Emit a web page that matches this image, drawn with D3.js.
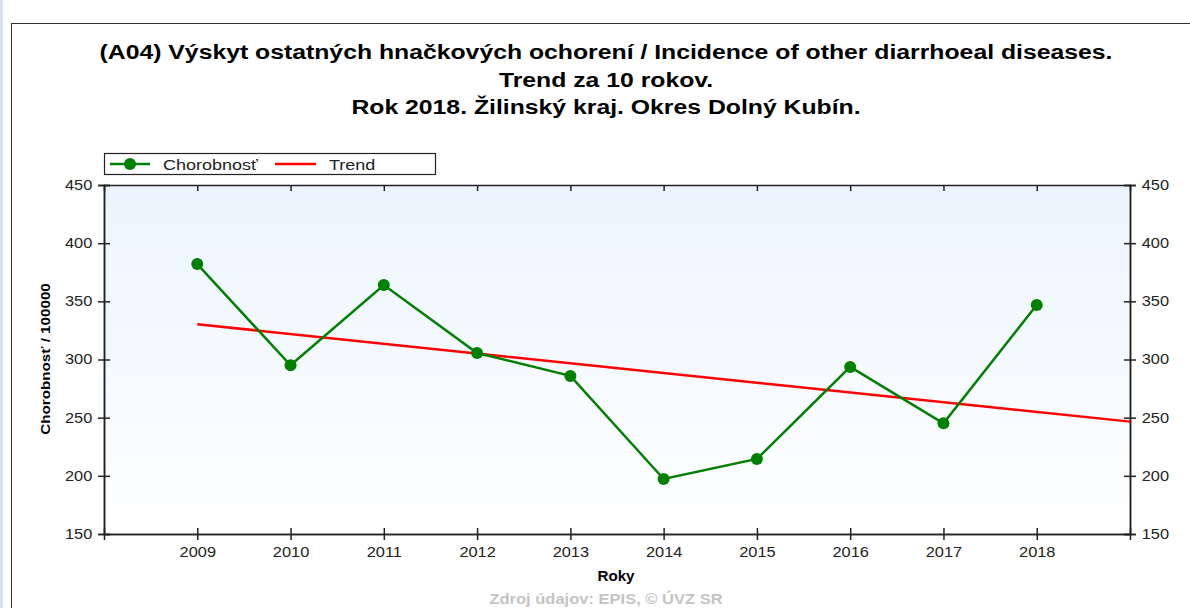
<!DOCTYPE html>
<html>
<head>
<meta charset="utf-8">
<script src="https://cdn.jsdelivr.net/npm/d3@7"></script>
<style>
  body { margin: 0; background: #fff; }
  svg { display: block; font-family: "Liberation Sans", Arial, sans-serif; }
</style>
</head>
<body>
<div id="chart"></div>
<script>
const years = [2009, 2010, 2011, 2012, 2013, 2014, 2015, 2016, 2017, 2018];
const incidence = [382, 295, 364, 305.6, 285.9, 197.3, 214.5, 293.6, 245.2, 346.9];
const trendYears = [2009, 2019];
const trendValues = [330.3, 246.6];
const yTicks = [150, 200, 250, 300, 350, 400, 450];
const titleLines = [
  '(A04) Výskyt ostatných hnačkových ochorení / Incidence of other diarrhoeal diseases.',
  'Trend za 10 rokov.',
  'Rok 2018. Žilinský kraj. Okres Dolný Kubín.'
];

const width = 1190;
const height = 608;
const plot = { left: 104, right: 1130, top: 185, bottom: 534 };
const stretch = 1.17; // reference font renders wider than Liberation Sans

const svg = d3.select('#chart')
  .append('svg')
  .attr('width', width)
  .attr('height', height);

// places a horizontally stretched text at (x, y)
function label(x, y, txt, size, opts = {}) {
  return svg.append('text')
    .attr('transform', `translate(${x},${y})${opts.rotate ? ' rotate(' + opts.rotate + ')' : ''} scale(${opts.sx || stretch},1)`)
    .attr('text-anchor', opts.anchor || 'middle')
    .style('font-size', size + 'px')
    .style('font-weight', opts.bold ? 'bold' : 'normal')
    .attr('fill', opts.fill || '#111')
    .text(txt);
}

// window edge + frame
svg.append('rect').attr('x', 0).attr('y', 0).attr('width', 3).attr('height', height).attr('fill', '#d9e1ec');
svg.append('rect')
  .attr('x', 11.5).attr('y', 23.5)
  .attr('width', width).attr('height', height)
  .attr('fill', '#fff').attr('stroke', '#333').attr('stroke-width', 1);

const grad = svg.append('defs').append('linearGradient')
  .attr('id', 'bg').attr('x1', 0).attr('y1', 0).attr('x2', 0).attr('y2', 1);
grad.append('stop').attr('offset', '0%').attr('stop-color', '#ebf4fe');
grad.append('stop').attr('offset', '100%').attr('stop-color', '#ffffff');

titleLines.forEach((t, i) => label(606, 59 + i * 27.5, t, 21, { bold: true, fill: '#000', sx: 1.18 }));

const x = d3.scaleLinear().domain([2008, 2019]).range([plot.left, plot.right]);
const y = d3.scaleLinear().domain([150, 450]).range([plot.bottom, plot.top]);

svg.append('rect')
  .attr('x', plot.left).attr('y', plot.top)
  .attr('width', plot.right - plot.left).attr('height', plot.bottom - plot.top)
  .attr('fill', 'url(#bg)');

const minorTicks = d3.range(150, 451, 10);

function yAxis(gen, xpos) {
  const g = svg.append('g').attr('transform', `translate(${xpos},0)`);
  g.call(gen(y).tickValues(minorTicks).tickSize(3).tickFormat(''));
  g.call(gen(y).tickValues(minorTicks).tickSize(-3).tickFormat(''));
  g.call(gen(y).tickValues(yTicks).tickSize(-6).tickFormat(''));
  const main = g.append('g').call(gen(y).tickValues(yTicks).tickSize(6).tickPadding(4).tickFormat(d3.format('d')));
  g.selectAll('path').attr('stroke', '#222').attr('stroke-width', 1.5);
  g.selectAll('line').attr('stroke', '#222').attr('stroke-width', 1.5);
  main.selectAll('text').style('font-size', '14px').attr('fill', '#222')
    .attr('transform', `scale(${stretch},1)`);
  return g;
}
yAxis(d3.axisLeft, plot.left);
yAxis(d3.axisRight, plot.right);

const bx = svg.append('g').attr('transform', `translate(0,${plot.bottom})`);
bx.call(d3.axisBottom(x).tickValues(years).tickSize(-6).tickFormat(''));
const bxl = bx.append('g').call(d3.axisBottom(x).tickValues(years).tickSize(6).tickPadding(7).tickFormat(d3.format('d')));
bx.selectAll('path').attr('stroke', '#222').attr('stroke-width', 1.5);
bx.selectAll('line').attr('stroke', '#222').attr('stroke-width', 1.5);
bxl.selectAll('text').style('font-size', '14px').attr('fill', '#222')
  .attr('transform', `scale(${stretch},1)`);

const tx = svg.append('g').attr('transform', `translate(0,${plot.top})`);
tx.call(d3.axisBottom(x).tickValues(years).tickSize(6).tickFormat(''));
tx.selectAll('path').attr('stroke', '#222').attr('stroke-width', 1.5);
tx.selectAll('line').attr('stroke', '#222').attr('stroke-width', 1.5);

label(616, 581, 'Roky', 14, { bold: true, fill: '#000', sx: 1.08 });
label(50, 359, 'Chorobnosť / 100000', 13, { bold: true, fill: '#000', rotate: -90 });
label(606, 604, 'Zdroj údajov: EPIS, © ÚVZ SR', 14, { bold: true, fill: '#c4c4c4', sx: 1.18 });

// trend
svg.append('path')
  .datum(trendYears.map((d, i) => [d, trendValues[i]]))
  .attr('d', d3.line().x(d => x(d[0])).y(d => y(d[1])))
  .attr('fill', 'none')
  .attr('stroke', '#ff0000')
  .attr('stroke-width', 2.5);

// incidence
svg.append('path')
  .datum(years.map((d, i) => [d, incidence[i]]))
  .attr('d', d3.line().x(d => x(d[0])).y(d => y(d[1])))
  .attr('fill', 'none')
  .attr('stroke', '#008000')
  .attr('stroke-width', 2.5);

svg.selectAll('circle.pt')
  .data(years)
  .enter()
  .append('circle')
  .attr('class', 'pt')
  .attr('cx', d => x(d))
  .attr('cy', (d, i) => y(incidence[i]))
  .attr('r', 6)
  .attr('fill', '#008000');

// legend
svg.append('rect')
  .attr('x', 104.5).attr('y', 153.5).attr('width', 331).attr('height', 21)
  .attr('fill', '#fff').attr('stroke', '#222').attr('stroke-width', 1.2);
svg.append('line').attr('x1', 110).attr('x2', 150).attr('y1', 164).attr('y2', 164)
  .attr('stroke', '#008000').attr('stroke-width', 2.5);
svg.append('circle').attr('cx', 130).attr('cy', 164).attr('r', 6).attr('fill', '#008000');
label(163, 169.5, 'Chorobnosť', 15, { anchor: 'start', fill: '#222', sx: 1.2 });
svg.append('line').attr('x1', 275).attr('x2', 316).attr('y1', 164).attr('y2', 164)
  .attr('stroke', '#ff0000').attr('stroke-width', 2.5);
label(329, 169.5, 'Trend', 15, { anchor: 'start', fill: '#222', sx: 1.2 });
</script>
</body>
</html>
